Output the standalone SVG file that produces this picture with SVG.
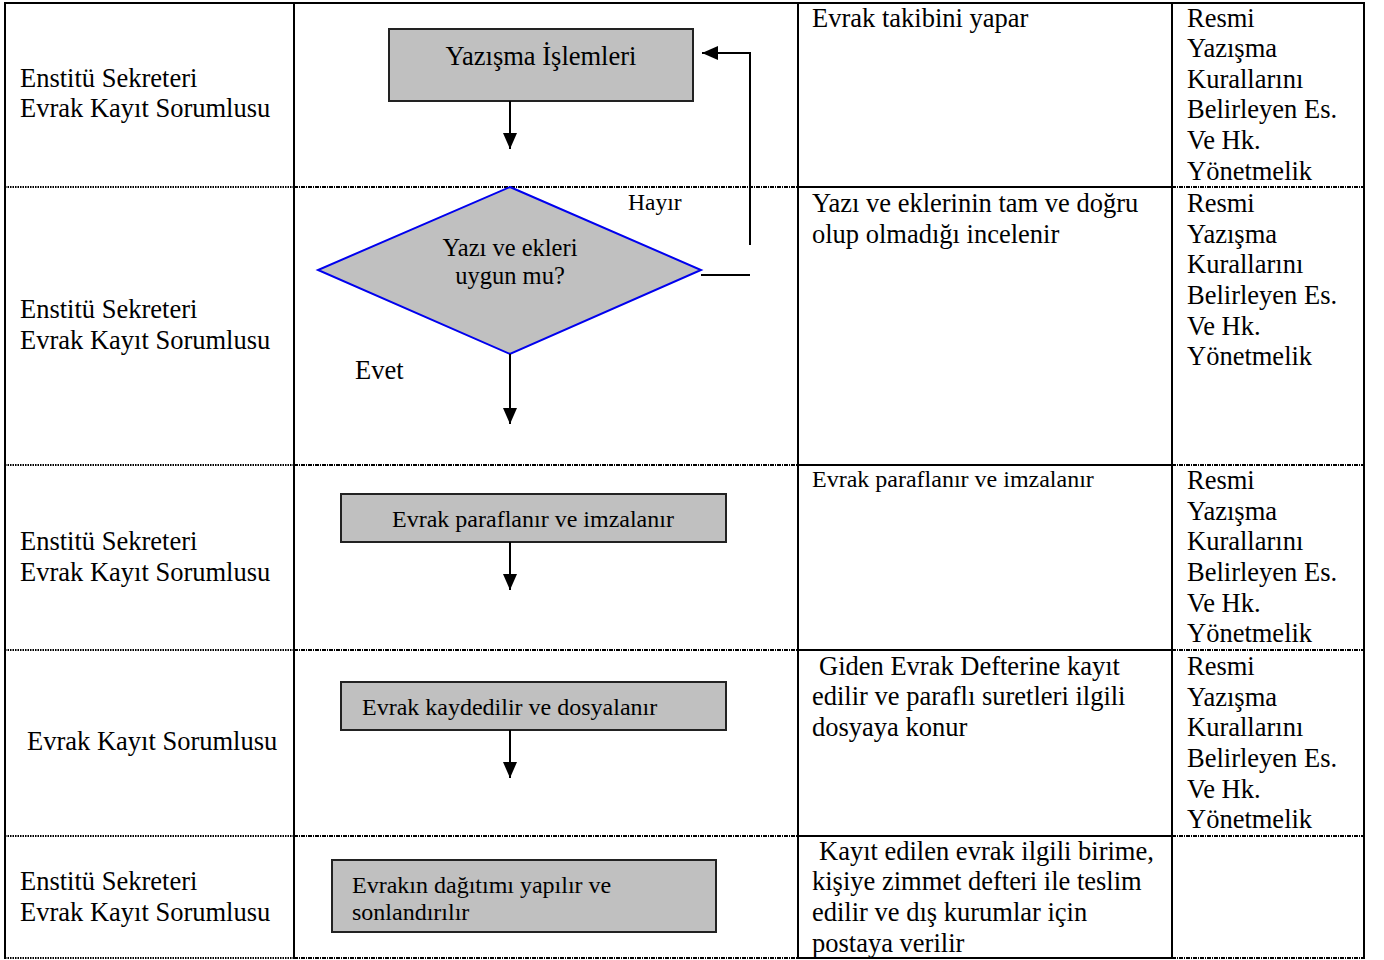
<svg xmlns="http://www.w3.org/2000/svg" width="1384" height="960" viewBox="0 0 1384 960">
<style>
text{font-family:"Liberation Serif","Times New Roman",serif;fill:#000;}
.t24{font-size:26.5px;}
.t22{font-size:24px;}
.td{font-size:24.5px;}
.t21{font-size:24px;}
.t20{font-size:23.5px;}
.box{fill:#c0c0c0;stroke:#222;stroke-width:2;}
.dia{fill:#c0c0c0;stroke:#0000ee;stroke-width:2;}
.vl{stroke:#000;stroke-width:2;}
.sl{stroke:#000;stroke-width:2;}
.dl1{stroke:#000;stroke-width:2;stroke-dasharray:1.5 1;}
.dl2{stroke:#000;stroke-width:2;stroke-dasharray:4 1 1 1;}
.con{stroke:#000;stroke-width:2;fill:none;}
</style>
<defs>
<marker id="ah" markerUnits="userSpaceOnUse" markerWidth="16" markerHeight="14" refX="16" refY="7" orient="auto">
<path d="M0,0 L16,7 L0,14 Z" fill="#000"/>
</marker>
</defs>
<rect width="1384" height="960" fill="#fff"/>
<g id="table">
<line class="sl" x1="4" y1="3" x2="1365" y2="3"/>
<line class="vl" x1="5" y1="2" x2="5" y2="959"/>
<line class="vl" x1="294" y1="2" x2="294" y2="959"/>
<line class="vl" x1="798" y1="2" x2="798" y2="959"/>
<line class="vl" x1="1172" y1="2" x2="1172" y2="959"/>
<line class="vl" x1="1364" y1="2" x2="1364" y2="959"/>
<g>
<line class="dl1" x1="5" y1="187" x2="294" y2="187"/>
<line class="dl2" x1="294" y1="187" x2="798" y2="187"/>
<line class="sl" x1="798" y1="187" x2="1172" y2="187"/>
<line class="dl2" x1="1172" y1="187" x2="1364" y2="187"/>
<line class="dl1" x1="5" y1="465" x2="294" y2="465"/>
<line class="dl2" x1="294" y1="465" x2="798" y2="465"/>
<line class="sl" x1="798" y1="465" x2="1172" y2="465"/>
<line class="dl2" x1="1172" y1="465" x2="1364" y2="465"/>
<line class="dl1" x1="5" y1="650" x2="294" y2="650"/>
<line class="dl2" x1="294" y1="650" x2="798" y2="650"/>
<line class="sl" x1="798" y1="650" x2="1172" y2="650"/>
<line class="dl2" x1="1172" y1="650" x2="1364" y2="650"/>
<line class="dl1" x1="5" y1="836" x2="294" y2="836"/>
<line class="dl2" x1="294" y1="836" x2="798" y2="836"/>
<line class="sl" x1="798" y1="836" x2="1172" y2="836"/>
<line class="dl2" x1="1172" y1="836" x2="1364" y2="836"/>
<line class="dl1" x1="5" y1="958" x2="294" y2="958"/>
<line class="dl2" x1="294" y1="958" x2="798" y2="958"/>
<line class="sl" x1="798" y1="958" x2="1172" y2="958"/>
<line class="dl2" x1="1172" y1="958" x2="1364" y2="958"/>
</g>
</g>
<g id="roles" class="t24">
<text x="20" y="87">Enstitü Sekreteri</text>
<text x="20" y="117">Evrak Kayıt Sorumlusu</text>
<text x="20" y="318">Enstitü Sekreteri</text>
<text x="20" y="349">Evrak Kayıt Sorumlusu</text>
<text x="20" y="550">Enstitü Sekreteri</text>
<text x="20" y="581">Evrak Kayıt Sorumlusu</text>
<text x="27" y="750">Evrak Kayıt Sorumlusu</text>
<text x="20" y="890">Enstitü Sekreteri</text>
<text x="20" y="921">Evrak Kayıt Sorumlusu</text>
</g>
<g id="descriptions" class="t24">
<text x="812" y="27">Evrak takibini yapar</text>
<text x="812" y="212">Yazı ve eklerinin tam ve doğru</text>
<text x="812" y="243">olup olmadığı incelenir</text>
<text x="812" y="487" class="t22">Evrak paraflanır ve imzalanır</text>
<text x="819" y="675">Giden Evrak Defterine kayıt</text>
<text x="812" y="705">edilir ve paraflı suretleri ilgili</text>
<text x="812" y="736">dosyaya konur</text>
<text x="819" y="860">Kayıt edilen evrak ilgili birime,</text>
<text x="812" y="890">kişiye zimmet defteri ile teslim</text>
<text x="812" y="921">edilir ve dış kurumlar için</text>
<text x="812" y="952">postaya verilir</text>
</g>
<g id="references" class="t24">
<text x="1187" y="27">Resmi</text>
<text x="1187" y="57">Yazışma</text>
<text x="1187" y="88">Kurallarını</text>
<text x="1187" y="118">Belirleyen Es.</text>
<text x="1187" y="149">Ve Hk.</text>
<text x="1187" y="180">Yönetmelik</text>
<text x="1187" y="212">Resmi</text>
<text x="1187" y="243">Yazışma</text>
<text x="1187" y="273">Kurallarını</text>
<text x="1187" y="304">Belirleyen Es.</text>
<text x="1187" y="335">Ve Hk.</text>
<text x="1187" y="365">Yönetmelik</text>
<text x="1187" y="489">Resmi</text>
<text x="1187" y="520">Yazışma</text>
<text x="1187" y="550">Kurallarını</text>
<text x="1187" y="581">Belirleyen Es.</text>
<text x="1187" y="612">Ve Hk.</text>
<text x="1187" y="642">Yönetmelik</text>
<text x="1187" y="675">Resmi</text>
<text x="1187" y="706">Yazışma</text>
<text x="1187" y="736">Kurallarını</text>
<text x="1187" y="767">Belirleyen Es.</text>
<text x="1187" y="798">Ve Hk.</text>
<text x="1187" y="828">Yönetmelik</text>
</g>
<g id="n1">
<rect class="box" x="389" y="29" width="304" height="72"/>
<text class="t24" x="541" y="65" text-anchor="middle">Yazışma İşlemleri</text>
</g>
<g id="n2">
<polygon class="dia" points="510,187 701,270 510,354 318,270"/>
<text class="td" x="510" y="256" text-anchor="middle">Yazı ve ekleri</text>
<text class="td" x="510" y="284" text-anchor="middle">uygun mu?</text>
</g>
<g id="n3">
<rect class="box" x="341" y="494" width="385" height="48"/>
<text class="t22" x="533" y="527" text-anchor="middle">Evrak paraflanır ve imzalanır</text>
</g>
<g id="n4">
<rect class="box" x="341" y="682" width="385" height="48"/>
<text class="t22" x="362" y="715">Evrak kaydedilir ve dosyalanır</text>
</g>
<g id="n5">
<rect class="box" x="332" y="860" width="384" height="72"/>
<text class="t21" x="352" y="893">Evrakın dağıtımı yapılır ve</text>
<text class="t21" x="352" y="920">sonlandırılır</text>
</g>
<g id="connectors">
<line class="con" x1="510" y1="101" x2="510" y2="149" marker-end="url(#ah)"/>
<line class="con" x1="510" y1="354" x2="510" y2="424" marker-end="url(#ah)"/>
<line class="con" x1="510" y1="542" x2="510" y2="590" marker-end="url(#ah)"/>
<line class="con" x1="510" y1="730" x2="510" y2="778" marker-end="url(#ah)"/>
<line class="con" x1="701" y1="275" x2="750" y2="275"/>
<polyline class="con" points="750,245 750,53 702,53" marker-end="url(#ah)"/>
<text class="t20" x="628" y="210">Hayır</text>
<text class="t24" x="355" y="379">Evet</text>
</g>
</svg>
